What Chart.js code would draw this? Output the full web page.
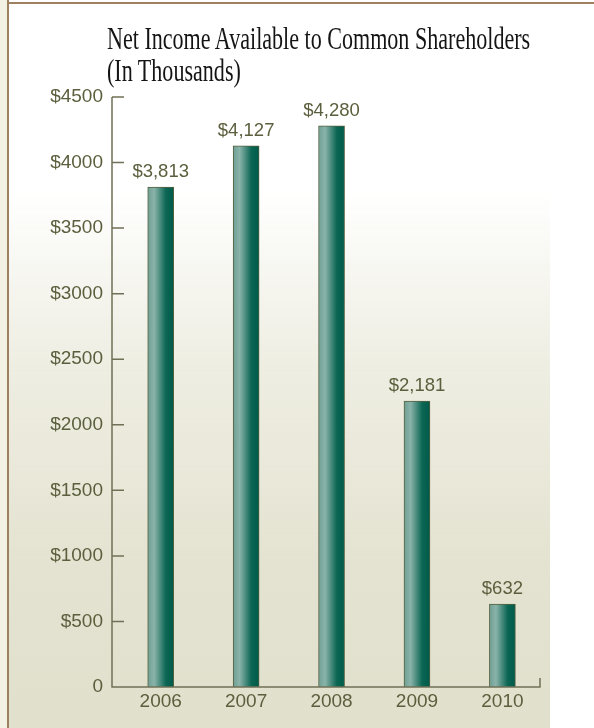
<!DOCTYPE html>
<html>
<head>
<meta charset="utf-8">
<script src="https://cdn.jsdelivr.net/npm/chart.js@4/dist/chart.umd.min.js"></script>
<style>
  html, body { margin: 0; padding: 0; background: #fff; }
  #wrap { position: relative; width: 594px; height: 728px; overflow: hidden; }
  #strip { position: absolute; left: 0; top: 0; width: 7px; height: 728px; background: #f3f0e4; border-right: 2px solid #9e8060; }
  #topline { position: absolute; left: 7px; top: 2px; width: 587px; height: 2px; background: #9e8060; }
  #canvas { position: absolute; left: 0; top: 0; }
  #title { position: absolute; left: 107px; top: 23px; font-family: "Liberation Serif", serif; font-size: 31px; line-height: 32px;
           color: #141414; white-space: nowrap; transform: scaleX(0.712); transform-origin: left top; }
</style>
</head>
<body>
<div id="wrap">
  <canvas id="canvas" width="594" height="728"></canvas>
  <div id="strip"></div>
  <div id="topline"></div>
  <div id="title">Net Income Available to Common Shareholders<br>(In Thousands)</div>
</div>
<script>
// Net income by year, in thousands
const years = [2006, 2007, 2008, 2009, 2010];
const income = [3813, 4127, 4280, 2181, 632];

const olive = '#5c5f3d';
const axisColor = '#707057';
const sans = '"Liberation Sans", Arial, sans-serif';

let ctx = document.getElementById('canvas').getContext('2d');

// cylinder-like shading across each bar
const barFill = (context) => {
  const chart = context.chart;
  const x = chart.scales.x;
  if (!x || !chart.chartArea || context.dataIndex === undefined) return '#3d8070';
  const cx = x.getPixelForValue(years[context.dataIndex]);
  if (!isFinite(cx)) return '#3d8070';
  const g = chart.ctx.createLinearGradient(cx - 13, 0, cx + 13, 0);
  g.addColorStop(0, '#6f9f94');
  g.addColorStop(0.25, '#8ab3a9');
  g.addColorStop(0.7, '#0b6654');
  g.addColorStop(1, '#005a49');
  return g;
};

// beige backdrop fading in toward the bottom
const backdrop = {
  id: 'backdrop',
  beforeDraw(chart) {
    const c = chart.ctx;
    const g = c.createLinearGradient(0, 190, 0, 728);
    g.addColorStop(0, 'rgba(227,226,208,0)');
    g.addColorStop(0.35, 'rgba(230,229,212,0.7)');
    g.addColorStop(0.7, '#e4e3d1');
    g.addColorStop(1, '#e1e0cd');
    c.save();
    c.fillStyle = g;
    c.fillRect(9, 190, 541, 538);
    c.restore();
  }
};

// axis lines, inward ticks and value labels
const axesAndLabels = {
  id: 'axesAndLabels',
  afterDatasetsDraw(chart) {
    const c = chart.ctx;
    const a = chart.chartArea;
    const y = chart.scales.y;
    c.save();
    c.strokeStyle = axisColor;
    c.lineWidth = 1.5;
    c.beginPath();
    c.moveTo(a.left, a.top);
    c.lineTo(a.left, a.bottom);
    c.lineTo(a.right, a.bottom);
    c.lineTo(a.right, a.bottom - 9);
    y.ticks.forEach(t => {
      if (t.value === 0) return;
      const py = y.getPixelForValue(t.value);
      c.moveTo(a.left, py);
      c.lineTo(a.left + 12, py);
    });
    c.stroke();

    c.fillStyle = olive;
    c.font = '18.5px ' + sans;
    c.textAlign = 'center';
    c.textBaseline = 'bottom';
    chart.getDatasetMeta(0).data.forEach((bar, i) => {
      c.fillText('$' + income[i].toLocaleString('en-US'), bar.x, bar.y - 6);
    });
    c.restore();
  }
};

new Chart(ctx, {
  type: 'bar',
  data: {
    datasets: [{
      data: years.map((yr, i) => ({ x: yr, y: income[i] })),
      backgroundColor: barFill,
      borderColor: '#55603f',
      borderWidth: 1,
      borderSkipped: 'bottom',
      barThickness: 26
    }]
  },
  options: {
    responsive: false,
    animation: false,
    layout: { padding: { top: 97, right: 54, left: 0, bottom: 0 } },
    plugins: { legend: { display: false }, tooltip: { enabled: false } },
    scales: {
      x: {
        type: 'linear',
        offset: false,
        min: 2005.43,
        max: 2010.44,
        grid: { display: false, drawTicks: false, offset: false },
        border: { display: false },
        afterBuildTicks: (scale) => { scale.ticks = years.map(v => ({ value: v })); },
        afterFit: (scale) => { scale.height = 41; },
        ticks: {
          padding: 3,
          color: olive,
          font: { family: sans, size: 19 },
          callback: (v) => String(v)
        }
      },
      y: {
        min: 0,
        max: 4500,
        grid: { display: false, drawTicks: false },
        border: { display: false },
        afterFit: (scale) => { scale.width = 112; },
        ticks: {
          stepSize: 500,
          padding: 9,
          color: olive,
          font: { family: sans, size: 19 },
          callback: (v) => v === 0 ? '0' : '$' + v
        }
      }
    }
  },
  plugins: [backdrop, axesAndLabels]
});
</script>
</body>
</html>
